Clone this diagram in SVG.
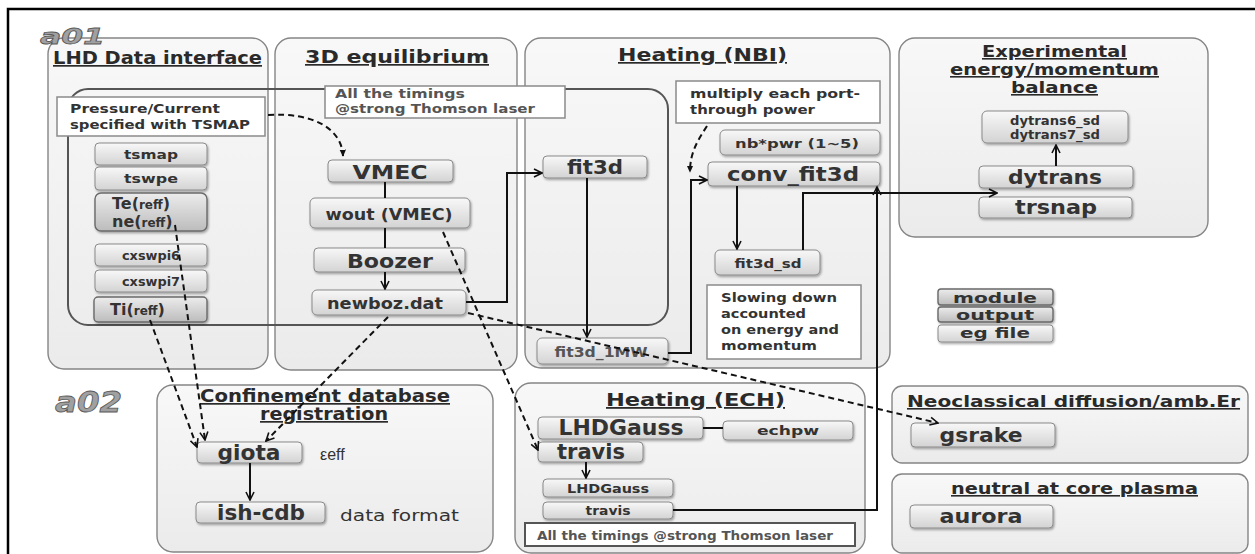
<svg xmlns="http://www.w3.org/2000/svg" width="1255" height="554" viewBox="0 0 1255 554">
<defs>
<linearGradient id="gNode" x1="0" y1="0" x2="0" y2="1"><stop offset="0" stop-color="#f8f8f8"/><stop offset="1" stop-color="#d3d3d3"/></linearGradient>
<linearGradient id="gDark" x1="0" y1="0" x2="0" y2="1"><stop offset="0" stop-color="#ececec"/><stop offset="1" stop-color="#bcbcbc"/></linearGradient>
<linearGradient id="gPanel" x1="0" y1="0" x2="0" y2="1"><stop offset="0" stop-color="#f8f8f8"/><stop offset="1" stop-color="#ebebeb"/></linearGradient>
<filter id="sh" x="-10%" y="-20%" width="130%" height="160%"><feDropShadow dx="1" dy="1.5" stdDeviation="1.2" flood-color="#000" flood-opacity="0.35"/></filter>
<marker id="open" viewBox="0 0 10 10" refX="9" refY="5" markerWidth="10" markerHeight="10" markerUnits="userSpaceOnUse" orient="auto"><path d="M1,1 L9,5 L1,9" fill="none" stroke="#111" stroke-width="1.6"/></marker>
<marker id="tri" viewBox="0 0 10 10" refX="8" refY="5" markerWidth="8" markerHeight="8" markerUnits="userSpaceOnUse" orient="auto"><path d="M0,1 L9,5 L0,9 Z" fill="#111"/></marker>
<style>
.panel{fill:url(#gPanel);stroke:#858585;stroke-width:1.4}
.node{fill:url(#gNode);stroke:#8a8a8a;stroke-width:1;filter:url(#sh)}
.dnode{fill:url(#gDark);stroke:#6a6a6a;stroke-width:1.4;filter:url(#sh)}
.note{fill:#fff;stroke:#8a8a8a;stroke-width:1.5}
.t{font-family:"DejaVu Sans","Verdana",sans-serif;font-weight:bold;fill:#333}
.c{text-anchor:middle}
.title{font-family:"DejaVu Sans",sans-serif;font-weight:bold;fill:#2a2a2a;text-decoration:underline}
.gray{font-family:"DejaVu Sans",sans-serif;fill:#555}
.tag{font-family:"DejaVu Sans",sans-serif;font-weight:bold;font-style:italic;fill:#a0a0a0;stroke:#5a5a5a;stroke-width:0.8}
.ln{fill:none;stroke:#111;stroke-width:2}
.dash{fill:none;stroke:#111;stroke-width:2;stroke-dasharray:6 4}
</style>
</defs>
<rect width="1255" height="554" fill="#fff"/>
<path d="M8 554 V9 H1255" fill="none" stroke="#000" stroke-width="2.5"/>

<g id="panel-lhd">
<rect class="panel" x="48" y="38" width="220" height="331" rx="16"/>
<text class="title" x="53" y="64" font-size="17" textLength="209" lengthAdjust="spacingAndGlyphs">LHD Data interface</text>
</g>
<g id="panel-3d">
<rect class="panel" x="275" y="38" width="242" height="332" rx="16"/>
<text class="title" x="305" y="63" font-size="17" textLength="184" lengthAdjust="spacingAndGlyphs">3D equilibrium</text>
</g>
<g id="panel-nbi">
<rect class="panel" x="525" y="38" width="365" height="330" rx="16"/>
<text class="title" x="618" y="61" font-size="17" textLength="169" lengthAdjust="spacingAndGlyphs">Heating (NBI)</text>
</g>
<g id="panel-exp">
<rect class="panel" x="899" y="38" width="309" height="199" rx="16"/>
<text class="title" x="982" y="57" font-size="16" textLength="145" lengthAdjust="spacingAndGlyphs">Experimental</text>
<text class="title" x="950" y="75" font-size="16" textLength="209" lengthAdjust="spacingAndGlyphs">energy/momentum</text>
<text class="title" x="1011" y="93" font-size="16" textLength="87" lengthAdjust="spacingAndGlyphs">balance</text>
</g>
<g id="panel-cdb">
<rect class="panel" x="157" y="385" width="336" height="167" rx="16"/>
<text class="title" x="200" y="402" font-size="17" textLength="250" lengthAdjust="spacingAndGlyphs">Confinement database</text>
<text class="title" x="260" y="420" font-size="17" textLength="128" lengthAdjust="spacingAndGlyphs">registration</text>
</g>
<g id="panel-ech">
<rect class="panel" x="515" y="383" width="350" height="170" rx="16"/>
<text class="title" x="606" y="406" font-size="18" textLength="179" lengthAdjust="spacingAndGlyphs">Heating (ECH)</text>
</g>
<g id="panel-neo">
<rect class="panel" x="892" y="386" width="356" height="77" rx="10"/>
<text class="title" x="907" y="407" font-size="16" textLength="333" lengthAdjust="spacingAndGlyphs">Neoclassical diffusion/amb.Er</text>
</g>
<g id="panel-neutral">
<rect class="panel" x="892" y="474" width="356" height="79" rx="10"/>
<text class="title" x="951" y="494" font-size="16" textLength="247" lengthAdjust="spacingAndGlyphs">neutral at core plasma</text>
</g>

<text class="tag" x="40" y="44" font-size="22" textLength="65" lengthAdjust="spacingAndGlyphs">a01</text>
<text class="tag" x="55" y="412" font-size="28" textLength="67" lengthAdjust="spacingAndGlyphs">a02</text>

<g id="timeslice">
<rect x="68" y="89" width="600" height="236" rx="20" fill="none" stroke="#555" stroke-width="2"/>
</g>

<g id="note-pressure">
<rect class="note" x="57" y="97" width="208" height="39"/>
<text class="t" x="70" y="113" font-size="13" textLength="150" lengthAdjust="spacingAndGlyphs">Pressure/Current</text>
<text class="t" x="70" y="129" font-size="13" textLength="180" lengthAdjust="spacingAndGlyphs">specified with TSMAP</text>
</g>
<g id="note-timings1">
<rect class="note" x="325" y="86" width="240" height="32"/>
<text class="gray" x="335" y="98" font-size="13" font-weight="600" textLength="130" lengthAdjust="spacingAndGlyphs">All the timings</text>
<text class="gray" x="335" y="113" font-size="13" font-weight="600" textLength="200" lengthAdjust="spacingAndGlyphs">@strong Thomson  laser</text>
</g>
<g id="note-multiply">
<rect class="note" x="676" y="81" width="204" height="42"/>
<text class="t" x="690" y="98" font-size="13" textLength="170" lengthAdjust="spacingAndGlyphs">multiply each port-</text>
<text class="t" x="690" y="114" font-size="13" textLength="125" lengthAdjust="spacingAndGlyphs">through power</text>
</g>
<g id="note-slowing">
<rect class="note" x="707" y="285" width="154" height="74"/>
<text class="t" x="721" y="302" font-size="13" textLength="116" lengthAdjust="spacingAndGlyphs">Slowing down</text>
<text class="t" x="721" y="318" font-size="13" textLength="85" lengthAdjust="spacingAndGlyphs">accounted</text>
<text class="t" x="721" y="334" font-size="13" textLength="118" lengthAdjust="spacingAndGlyphs">on energy and</text>
<text class="t" x="721" y="350" font-size="13" textLength="96" lengthAdjust="spacingAndGlyphs">momentum</text>
</g>

<g id="tsmap"><rect class="node" x="95" y="143" width="112" height="22" rx="4"/><text class="t c" x="151" y="159" font-size="13" textLength="54" lengthAdjust="spacingAndGlyphs">tsmap</text></g>
<g id="tswpe"><rect class="node" x="95" y="167" width="112" height="23" rx="4"/><text class="t c" x="151" y="183" font-size="13" textLength="54" lengthAdjust="spacingAndGlyphs">tswpe</text></g>
<g id="te-ne"><rect class="dnode" x="95" y="193" width="112" height="38" rx="6"/>
<text class="t" x="112" y="209" font-size="16">Te(<tspan font-size="12">reff</tspan>)</text>
<text class="t" x="112" y="227" font-size="16">ne(<tspan font-size="12">reff</tspan>)</text></g>
<g id="cxswpi6"><rect class="node" x="95" y="244" width="112" height="22" rx="4"/><text class="t c" x="151" y="260" font-size="13" textLength="58" lengthAdjust="spacingAndGlyphs">cxswpi6</text></g>
<g id="cxswpi7"><rect class="node" x="95" y="270" width="112" height="22" rx="4"/><text class="t c" x="151" y="286" font-size="13" textLength="58" lengthAdjust="spacingAndGlyphs">cxswpi7</text></g>
<g id="ti"><rect class="dnode" x="94" y="297" width="113" height="25" rx="4"/><text class="t" x="110" y="315" font-size="16">Ti(<tspan font-size="12">reff</tspan>)</text></g>

<g id="vmec"><rect class="node" x="328" y="160" width="125" height="22" rx="4"/><text class="t c" x="390" y="179" font-size="20" textLength="75" lengthAdjust="spacingAndGlyphs">VMEC</text></g>
<g id="wout"><rect class="node" x="310" y="198" width="160" height="30" rx="5"/><text class="t c" x="389" y="220" font-size="16" textLength="127" lengthAdjust="spacingAndGlyphs">wout (VMEC)</text></g>
<g id="boozer"><rect class="node" x="314" y="248" width="151" height="24" rx="4"/><text class="t c" x="390" y="268" font-size="19" textLength="86" lengthAdjust="spacingAndGlyphs">Boozer</text></g>
<g id="newboz"><rect class="node" x="312" y="290" width="154" height="25" rx="5"/><text class="t c" x="385" y="309" font-size="15" textLength="116" lengthAdjust="spacingAndGlyphs">newboz.dat</text></g>

<g id="fit3d"><rect class="node" x="543" y="156" width="104" height="22" rx="4"/><text class="t c" x="595" y="174" font-size="19" textLength="56" lengthAdjust="spacingAndGlyphs">fit3d</text></g>
<g id="fit3d_1mw"><rect class="node" x="537" y="338" width="131" height="26" rx="5"/><text class="gray c" x="601" y="357" font-size="14" font-weight="600" textLength="93" lengthAdjust="spacingAndGlyphs">fit3d_1MW</text></g>
<g id="nbpwr"><rect class="node" x="720" y="130" width="160" height="25" rx="5"/><text class="t c" x="797" y="148" font-size="13" textLength="124" lengthAdjust="spacingAndGlyphs">nb*pwr (1~5)</text></g>
<g id="conv_fit3d"><rect class="node" x="708" y="162" width="172" height="24" rx="4"/><text class="t c" x="793" y="181" font-size="20" textLength="132" lengthAdjust="spacingAndGlyphs">conv_fit3d</text></g>
<g id="fit3d_sd"><rect class="node" x="715" y="250" width="105" height="25" rx="5"/><text class="t c" x="768" y="268" font-size="13" textLength="67" lengthAdjust="spacingAndGlyphs">fit3d_sd</text></g>

<g id="dytrans_sd"><rect class="node" x="982" y="111" width="146" height="32" rx="5"/>
<text class="t c" x="1055" y="125" font-size="12" textLength="90" lengthAdjust="spacingAndGlyphs">dytrans6_sd</text>
<text class="t c" x="1055" y="139" font-size="12" textLength="90" lengthAdjust="spacingAndGlyphs">dytrans7_sd</text></g>
<g id="dytrans"><rect class="node" x="979" y="166" width="154" height="22" rx="4"/><text class="t c" x="1055" y="184" font-size="20" textLength="94" lengthAdjust="spacingAndGlyphs">dytrans</text></g>
<g id="trsnap"><rect class="node" x="979" y="197" width="153" height="21" rx="4"/><text class="t c" x="1056" y="214" font-size="20" textLength="82" lengthAdjust="spacingAndGlyphs">trsnap</text></g>

<g id="legend-module"><rect class="dnode" x="938" y="289" width="115" height="16" rx="3"/><text class="t c" x="995" y="303" font-size="14" textLength="84" lengthAdjust="spacingAndGlyphs">module</text></g>
<g id="legend-output"><rect class="dnode" x="938" y="307" width="115" height="15" rx="3"/><text class="t c" x="995" y="320" font-size="14" textLength="78" lengthAdjust="spacingAndGlyphs">output</text></g>
<g id="legend-eg"><rect class="node" x="938" y="325" width="115" height="17" rx="3"/><text class="t c" x="995" y="338" font-size="14" textLength="70" lengthAdjust="spacingAndGlyphs">eg file</text></g>

<g id="gsrake"><rect class="node" x="911" y="423" width="144" height="24" rx="4"/><text class="t c" x="981" y="442" font-size="20" textLength="83" lengthAdjust="spacingAndGlyphs">gsrake</text></g>
<g id="aurora"><rect class="node" x="910" y="505" width="143" height="23" rx="4"/><text class="t c" x="981" y="523" font-size="20" textLength="83" lengthAdjust="spacingAndGlyphs">aurora</text></g>

<g id="giota"><rect class="node" x="197" y="442" width="105" height="21" rx="4"/><text class="t c" x="249" y="460" font-size="21" textLength="63" lengthAdjust="spacingAndGlyphs">giota</text></g>
<text x="320" y="460" font-family="Liberation Sans, sans-serif" font-size="16" fill="#333">εeff</text>
<g id="ishcdb"><rect class="node" x="196" y="502" width="129" height="21" rx="4"/><text class="t c" x="261" y="520" font-size="21" textLength="88" lengthAdjust="spacingAndGlyphs">ish-cdb</text></g>
<text x="340" y="521" font-family="DejaVu Sans, sans-serif" font-size="16" fill="#333" textLength="119" lengthAdjust="spacingAndGlyphs">data format</text>

<g id="lhdgauss"><rect class="node" x="538" y="417" width="165" height="22" rx="4"/><text class="t c" x="621" y="435" font-size="21" textLength="125" lengthAdjust="spacingAndGlyphs">LHDGauss</text></g>
<g id="echpw"><rect class="node" x="723" y="421" width="130" height="19" rx="4"/><text class="t c" x="788" y="435" font-size="13" textLength="62" lengthAdjust="spacingAndGlyphs">echpw</text></g>
<g id="travis"><rect class="node" x="538" y="442" width="105" height="20" rx="4"/><text class="t c" x="591" y="459" font-size="21" textLength="68" lengthAdjust="spacingAndGlyphs">travis</text></g>
<g id="lhdgauss-s"><rect class="node" x="543" y="479" width="130" height="18" rx="4"/><text class="t c" x="608" y="493" font-size="13" textLength="82" lengthAdjust="spacingAndGlyphs">LHDGauss</text></g>
<g id="travis-s"><rect class="node" x="543" y="502" width="130" height="17" rx="4"/><text class="t c" x="608" y="515" font-size="13" textLength="45" lengthAdjust="spacingAndGlyphs">travis</text></g>
<g id="note-timings2">
<rect x="525" y="523" width="330" height="23" fill="#fff" stroke="#555" stroke-width="2"/>
<text class="gray" x="537" y="540" font-size="13" font-weight="600" textLength="296" lengthAdjust="spacingAndGlyphs">All the timings @strong Thomson laser</text>
</g>

<g id="connectors">
<path class="dash" d="M268 115 C315 112 342 130 343 156" marker-end="url(#tri)"/>
<path class="dash" d="M707 126 C698 140 690 152 690 172" marker-end="url(#tri)"/>
<path class="dash" d="M175 225 L205 440" marker-end="url(#open)"/>
<path class="dash" d="M150 320 L197 447" marker-end="url(#open)"/>
<path class="dash" d="M388 317 L266 441" marker-end="url(#open)"/>
<path class="dash" d="M443 232 L538 450" marker-end="url(#open)"/>
<path class="dash" d="M468 313 L938 423" marker-end="url(#open)"/>
<path class="ln" d="M385 182 V198"/>
<path class="ln" d="M385 228 V248"/>
<path class="ln" d="M385 272 V289" marker-end="url(#open)"/>
<path class="ln" d="M466 302 H507 V173 H542" marker-end="url(#open)"/>
<path class="ln" d="M587 178 V337" marker-end="url(#open)"/>
<path class="ln" d="M668 353 H691 V180 H707" marker-end="url(#open)"/>
<path class="ln" d="M737 186 V249" marker-end="url(#open)"/>
<path class="ln" d="M803 250 V193 H997" marker-end="url(#open)"/>
<path class="ln" d="M673 510 H877 V187" marker-end="url(#open)"/>
<path class="ln" d="M1056 166 V145" marker-end="url(#open)"/>
<path class="ln" d="M250 463 V500" marker-end="url(#open)"/>
<path class="ln" d="M586 462 V478" stroke-width="1.5" marker-end="url(#open)"/>
<path class="ln" d="M703 428 H723"/>
</g>
</svg>
